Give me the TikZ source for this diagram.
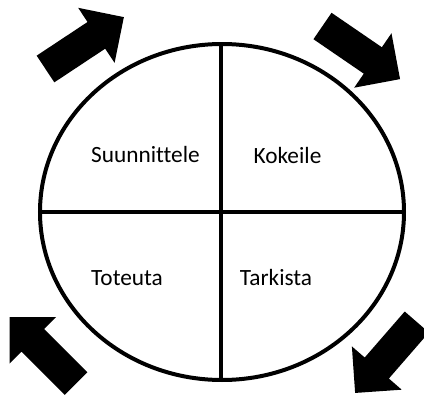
\documentclass[tikz,border=0pt]{standalone}
\usepackage{fontspec}
\setmainfont[Ligatures=NoCommon]{Carlito}
\begin{document}
\begin{tikzpicture}[x=1pt,y=-1pt,
  blockarrow/.style={fill=black},
  lbl/.style={anchor=base,font=\fontsize{23.3}{27}\selectfont,inner sep=0pt},
  ring/.style={line width=4pt}]
\useasboundingbox (0,0) rectangle (424,399);
\clip (0,0) rectangle (424,399);
\draw[ring] (222,212) ellipse [x radius=182, y radius=168];
\coordinate (top) at (221,44);
\coordinate (bot) at (221,380);
\coordinate (lft) at (40,212);
\coordinate (rgt) at (404,212);
\draw[ring] (top) -- (bot);
\draw[ring] (lft) -- (rgt);
\node[lbl] (s) at (145.5,162) {Suunnittele};
\node[lbl] (k) at (287.5,163) {Kokeile};
\node[lbl] (t) at (127,285) {Toteuta};
\node[lbl] (ta) at (276,285.5) {Tarkista};
\def\arrowshape{(0,-16) -- (61,-16) -- (61,-33) -- (94,0) -- (61,33) -- (61,16) -- (0,16) -- cycle}
\begin{scope}[shift={(45.5,69)},rotate=33.5]
  \fill[blockarrow] \arrowshape;
\end{scope}
\begin{scope}[shift={(322.5,26)},rotate=-34.4]
  \fill[blockarrow] \arrowshape;
\end{scope}
\begin{scope}[shift={(416.8,322)},rotate=-131]
  \fill[blockarrow] \arrowshape;
\end{scope}
\begin{scope}[shift={(76,383.5)},rotate=135]
  \fill[blockarrow] \arrowshape;
\end{scope}
\end{tikzpicture}
\end{document}
